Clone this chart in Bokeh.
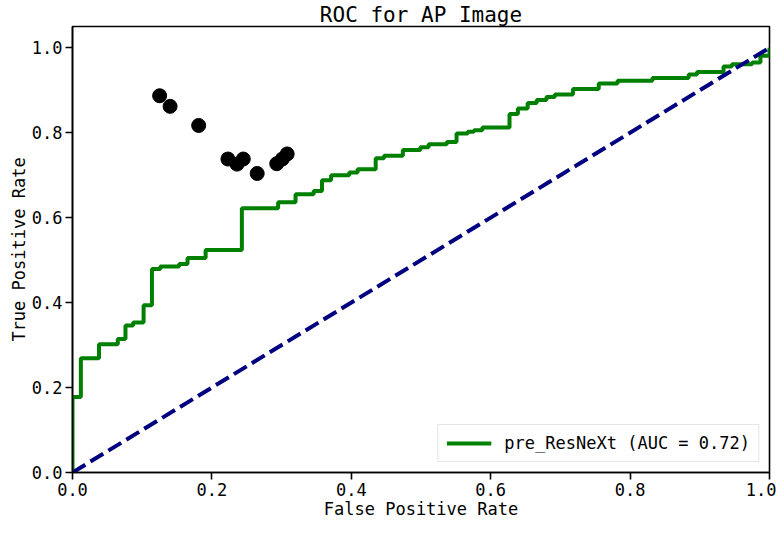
from bokeh.plotting import figure
from bokeh.models import Range1d, FixedTicker, PrintfTickFormatter
from bokeh.embed import file_html
from bokeh.resources import INLINE

# ROC curve vertices (false positive rate, true positive rate)
fpr = [0.000, 0.000, 0.012, 0.012, 0.038, 0.038, 0.065, 0.065, 0.076, 0.076,
       0.087, 0.087, 0.102, 0.102, 0.114, 0.114, 0.126, 0.126, 0.153, 0.153,
       0.165, 0.165, 0.191, 0.191, 0.243, 0.243, 0.295, 0.295, 0.320, 0.320,
       0.346, 0.346, 0.358, 0.358, 0.371, 0.371, 0.397, 0.397, 0.409, 0.409,
       0.435, 0.435, 0.447, 0.447, 0.474, 0.474, 0.499, 0.499, 0.511, 0.511,
       0.537, 0.537, 0.551, 0.551, 0.567, 0.567, 0.576, 0.576, 0.588, 0.588,
       0.627, 0.627, 0.639, 0.639, 0.653, 0.653, 0.666, 0.666, 0.680, 0.680,
       0.692, 0.692, 0.718, 0.718, 0.755, 0.755, 0.782, 0.782, 0.832, 0.832,
       0.884, 0.884, 0.896, 0.896, 0.934, 0.934, 0.946, 0.946, 0.975, 0.975,
       0.987, 0.987, 1.000, 1.000]
tpr = [0.000, 0.178, 0.178, 0.269, 0.269, 0.302, 0.302, 0.314, 0.314, 0.346,
       0.346, 0.353, 0.353, 0.394, 0.394, 0.479, 0.479, 0.485, 0.485, 0.491,
       0.491, 0.505, 0.505, 0.524, 0.524, 0.622, 0.622, 0.636, 0.636, 0.655,
       0.655, 0.663, 0.663, 0.688, 0.688, 0.700, 0.700, 0.706, 0.706, 0.714,
       0.714, 0.740, 0.740, 0.746, 0.746, 0.759, 0.759, 0.766, 0.766, 0.773,
       0.773, 0.778, 0.778, 0.798, 0.798, 0.802, 0.802, 0.806, 0.806, 0.812,
       0.812, 0.844, 0.844, 0.857, 0.857, 0.870, 0.870, 0.877, 0.877, 0.884,
       0.884, 0.890, 0.890, 0.903, 0.903, 0.916, 0.916, 0.922, 0.922, 0.929,
       0.929, 0.937, 0.937, 0.943, 0.943, 0.956, 0.956, 0.961, 0.961, 0.965,
       0.965, 0.981, 0.981, 1.000]

# Chance diagonal
diag_x = [0.0, 1.0]
diag_y = [0.0, 1.0]

# Black operating points
pts_fpr = [0.125, 0.140, 0.181, 0.223, 0.236, 0.245, 0.265, 0.293, 0.301, 0.308]
pts_tpr = [0.887, 0.862, 0.817, 0.738, 0.726, 0.738, 0.704, 0.727, 0.738, 0.750]

xticks = [0.0, 0.2, 0.4, 0.6, 0.8, 1.0]
yticks = [0.0, 0.2, 0.4, 0.6, 0.8, 1.0]

title_text = "ROC for AP Image"
xlabel = "False Positive Rate"
ylabel = "True Positive Rate"
legend_text = "pre_ResNeXt (AUC = 0.72)"

FONT = "DejaVu Sans Mono"

p = figure(width=776, height=521, output_backend="svg", toolbar_location=None,
           x_range=Range1d(0, 1), y_range=Range1d(0, 1.05),
           min_border_left=72, min_border_right=7, min_border_top=22, min_border_bottom=40,
           title=title_text)

p.title.text_font = FONT
p.title.text_font_size = "21px"
p.title.text_font_style = "normal"
p.title.align = "center"
p.title.standoff = 0
p.title.text_color = "black"

p.line(fpr, tpr, line_color="green", line_width=4, legend_label=legend_text)
p.line(diag_x, diag_y, line_color="navy", line_width=4, line_dash="15 6")
p.scatter(pts_fpr, pts_tpr, size=14, fill_color="black", line_color="black", marker="circle")

p.xgrid.visible = False
p.ygrid.visible = False
p.outline_line_color = "black"
p.outline_line_width = 1.6
p.background_fill_color = "white"
p.border_fill_color = "white"

p.xaxis.ticker = FixedTicker(ticks=xticks)
p.yaxis.ticker = FixedTicker(ticks=yticks)
for ax in (p.xaxis, p.yaxis):
    ax.formatter = PrintfTickFormatter(format="%.1f")
    ax.minor_tick_line_color = None
    ax.major_tick_out = 7
    ax.major_tick_in = 0
    ax.major_tick_line_width = 1.6
    ax.major_tick_line_color = "black"
    ax.axis_line_color = "black"
    ax.axis_line_width = 1.6
    ax.major_label_text_font = FONT
    ax.major_label_text_font_size = "17px"
    ax.major_label_text_color = "black"
    ax.axis_label_text_font = FONT
    ax.axis_label_text_font_size = "17px"
    ax.axis_label_text_font_style = "normal"
    ax.axis_label_text_color = "black"
    ax.major_label_standoff = 3
    ax.axis_label_standoff = 0

p.xaxis.axis_label = xlabel
p.yaxis.axis_label = ylabel

lg = p.legend[0]
lg.location = "bottom_right"
lg.margin = 10
lg.padding = 8
lg.spacing = 0
lg.glyph_width = 45
lg.glyph_height = 20
lg.label_height = 20
lg.label_standoff = 13
lg.label_text_font = FONT
lg.label_text_font_size = "17px"
lg.label_text_color = "black"
lg.border_line_color = "#cccccc"
lg.border_line_width = 1
lg.background_fill_alpha = 0.8

open("out.html", "w").write(file_html(p, INLINE))
